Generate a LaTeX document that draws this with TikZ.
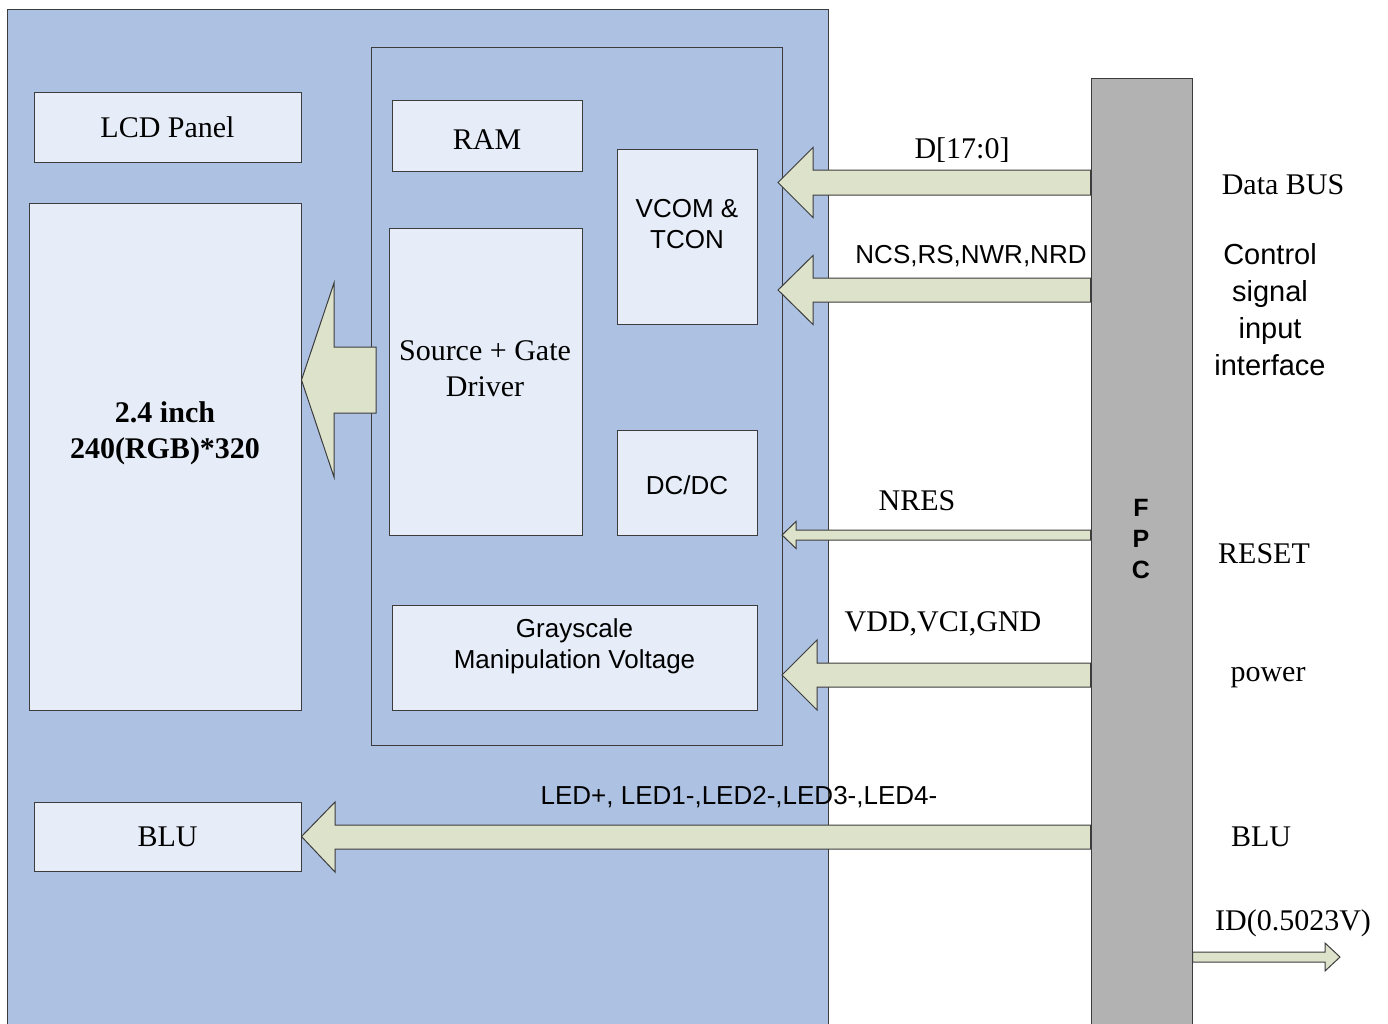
\documentclass[tikz,border=0pt]{standalone}
\usepackage{fontspec}
\setmainfont{Liberation Serif}
\newfontfamily\arial{Liberation Sans}
\definecolor{panelblue}{RGB}{173,193,227}
\definecolor{boxfill}{RGB}{230,237,248}
\definecolor{arrowfill}{RGB}{221,226,203}
\definecolor{fpcgray}{RGB}{178,178,178}
\definecolor{edge}{RGB}{60,60,60}
\begin{document}
\begin{tikzpicture}[x=1pt,y=-1pt,
    box/.style={draw=edge,line width=1pt,fill=boxfill,inner sep=0pt,font=\fontsize{30}{36}\selectfont},
    serif/.style={inner sep=0pt,align=center,font=\fontsize{30}{36}\selectfont},
    sans/.style={inner sep=0pt,align=center,font=\arial\fontsize{26}{31}\selectfont},
    fat/.style={draw=edge,line width=1pt,fill=arrowfill,line join=miter}]
\useasboundingbox (0,0) rectangle (1388,1023);
\node[draw=edge,line width=1pt,fill=panelblue,minimum width=821,minimum height=1021] (module) at (417.5,519.5) {};
\node[draw=edge,line width=1pt,minimum width=411,minimum height=698] (ic) at (576.5,396) {};
\node[draw=edge,line width=1pt,fill=fpcgray,minimum width=101,minimum height=952] (fpc) at (1141.5,554) {};

\node[box,minimum width=267,minimum height=70] (panel) at (167.5,127) {LCD Panel};
\node[box,minimum width=272,minimum height=507] (lcd) at (165,456.5) {};
\node[serif,font=\fontsize{30}{36}\selectfont\bfseries] (lcdtext) at (165,433) {2.4 inch\\240(RGB)*320};
\node[box,minimum width=267,minimum height=69] (blu) at (167.5,836.5) {BLU};

\node[box,minimum width=190,minimum height=71] (ram) at (487,135.5) {};
\node[serif] (ramtext) at (487,140) {RAM};
\node[box,minimum width=193,minimum height=307] (driver) at (485.5,381.5) {};
\node[serif] (drivertext) at (485,369) {Source + Gate\\Driver};
\node[box,minimum width=140,minimum height=175] (vcom) at (687,236.5) {};
\node[sans] (vcomtext) at (687,224) {VCOM \&\\TCON};
\node[box,minimum width=140,minimum height=105] (dcdc) at (687,482.5) {};
\node[sans] (dcdctext) at (687,485) {DC/DC};
\node[box,minimum width=365,minimum height=105] (gray) at (574.5,657.5) {};
\node[sans] (graytext) at (574.5,646) {Grayscale\\Manipulation Voltage};

\node[inner sep=0pt,align=center,font=\arial\fontsize{25}{31}\selectfont\bfseries] (fpctext) at (1141,539) {F\\P\\C};

\foreach \y/\tip/\back/\sh/\hh in {182.5/778/813/12.5/35, 290/778/813/12/34.5, 535/782/796/5/13.5, 675/782/817/12/35}
    \draw[fat] (fpc.west |- 0,\y-\sh) -- (\back,\y-\sh) -- (\back,\y-\hh) -- (\tip,\y)
        -- (\back,\y+\hh) -- (\back,\y+\sh) -- (fpc.west |- 0,\y+\sh) -- cycle;
\draw[fat] (fpc.west |- 0,825) -- (335,825) -- (335,802) -- (blu.east) -- (335,872) -- (335,849) -- (fpc.west |- 0,849) -- cycle;
\draw[fat] (376,347) -- (334,347) -- (334,283) -- (lcd.east |- 0,380) -- (334,477) -- (334,413) -- (376,413) -- cycle;
\draw[fat] (fpc.east |- 0,952) -- (1325,952) -- (1325,943) -- (1340,957) -- (1325,971) -- (1325,962) -- (fpc.east |- 0,962) -- cycle;

\node[serif] (dlabel) at (962,150) {D[17:0]};
\node[sans] (ctllabel) at (971,256) {NCS,RS,NWR,NRD};
\node[serif] (reslabel) at (917,501) {NRES};
\node[serif] (pwrlabel) at (943,624) {VDD,VCI,GND};
\node[sans] (ledlabel) at (739,797) {LED+, LED1-,LED2-,LED3-,LED4-};

\node[serif] (busname) at (1283,185) {Data BUS};
\node[sans,font=\arial\fontsize{29}{37}\selectfont] (ctlname) at (1270,309.5) {Control\\signal\\input\\interface};
\node[serif] (resname) at (1264,554) {RESET};
\node[serif] (pwrname) at (1268,678) {power};
\node[serif] (bluname) at (1261,837) {BLU};
\node[serif] (idname) at (1293,923) {ID(0.5023V)};
\end{tikzpicture}
\end{document}
